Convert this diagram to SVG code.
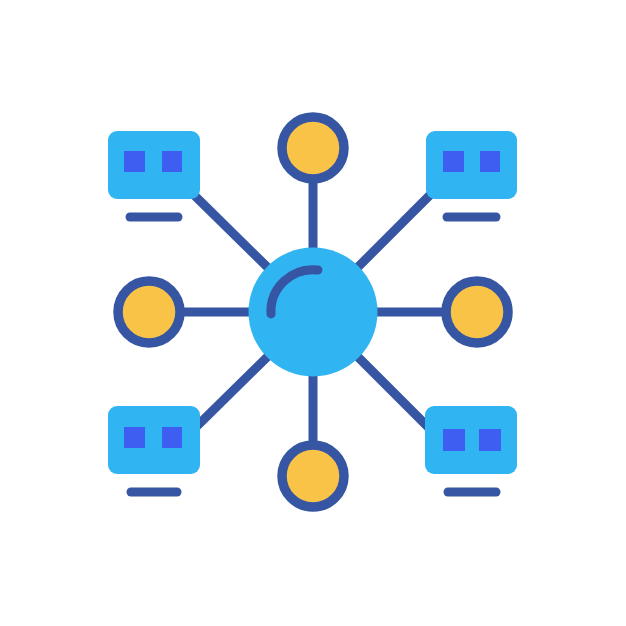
<svg xmlns="http://www.w3.org/2000/svg" width="626" height="626" viewBox="0 0 626 626">
<style>
.conn{stroke:#3655a2;stroke-width:9;stroke-linecap:round;fill:none}
.hub{fill:#31b4f2}
.leaf{fill:#f8c346;stroke:#3655a2;stroke-width:9.5}
.mon{fill:#31b4f2}
.sq{fill:#3d5ef0}
.base{stroke:#3655a2;stroke-width:9;stroke-linecap:round}
</style>
<rect width="626" height="626" fill="#ffffff"/>
<g id="connectors">
<line class="conn" x1="313" y1="312" x2="313" y2="180"/>
<line class="conn" x1="313" y1="312" x2="313" y2="444"/>
<line class="conn" x1="313" y1="312" x2="181" y2="312"/>
<line class="conn" x1="313" y1="312" x2="445" y2="312"/>
<line class="conn" x1="313" y1="312" x2="192" y2="193"/>
<line class="conn" x1="313" y1="312" x2="432" y2="193"/>
<line class="conn" x1="313" y1="312" x2="192" y2="431"/>
<line class="conn" x1="313" y1="312" x2="432" y2="431"/>
</g>
<g id="hub">
<circle class="hub" cx="313" cy="312" r="64.5"/>
<path d="M271 314 A42 42 0 0 1 318 270" stroke="#3655a2" stroke-width="9" stroke-linecap="round" fill="none"/>
</g>
<g id="node-top"><circle class="leaf" cx="313" cy="148" r="31"/></g>
<g id="node-bottom"><circle class="leaf" cx="313" cy="476" r="31"/></g>
<g id="node-left"><circle class="leaf" cx="149" cy="312" r="31"/></g>
<g id="node-right"><circle class="leaf" cx="477" cy="312" r="31"/></g>
<g id="monitor-tl">
<rect class="mon" x="108" y="131" width="92" height="68" rx="9"/>
<rect class="sq" x="124" y="151" width="21" height="21"/>
<rect class="sq" x="162" y="151" width="20" height="21"/>
<line class="base" x1="130" y1="217" x2="178" y2="217"/>
</g>
<g id="monitor-tr">
<rect class="mon" x="426" y="131" width="91" height="68" rx="9"/>
<rect class="sq" x="443" y="151" width="21" height="21"/>
<rect class="sq" x="480" y="151" width="20" height="21"/>
<line class="base" x1="447" y1="217" x2="496" y2="217"/>
</g>
<g id="monitor-bl">
<rect class="mon" x="108" y="406" width="92" height="68" rx="9"/>
<rect class="sq" x="124" y="427" width="21" height="21"/>
<rect class="sq" x="162" y="427" width="20" height="21"/>
<line class="base" x1="131" y1="492" x2="177" y2="492"/>
</g>
<g id="monitor-br">
<rect class="mon" x="425" y="406" width="92" height="68" rx="9"/>
<rect class="sq" x="443" y="429" width="22" height="22"/>
<rect class="sq" x="479" y="429" width="22" height="22"/>
<line class="base" x1="448" y1="492" x2="496" y2="492"/>
</g>
</svg>
